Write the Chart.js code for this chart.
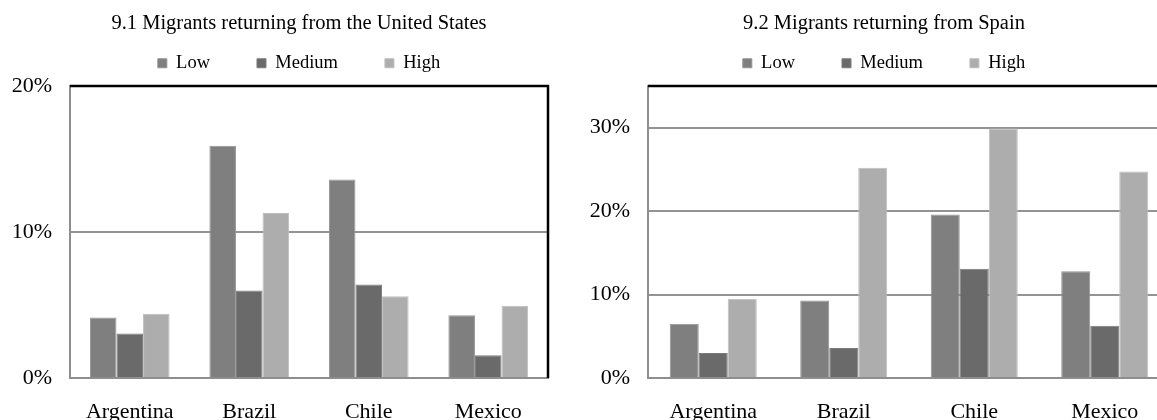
<!DOCTYPE html>
<html>
<head>
<meta charset="utf-8">
<script src="https://cdn.jsdelivr.net/npm/chart.js@4/dist/chart.umd.min.js"></script>
<style>
  html, body { margin: 0; padding: 0; background: #fff; overflow: hidden; width: 1157px; height: 420px; }
  canvas { position: absolute; top: 0; }
  #chart-us { left: 0; }
  #chart-spain { left: 580px; }
</style>
</head>
<body>
<canvas id="chart-us" width="598" height="420"></canvas>
<canvas id="chart-spain" width="608" height="420"></canvas>
<script>
const countries = ['Argentina', 'Brazil', 'Chile', 'Mexico'];
const seriesNames = ['Low', 'Medium', 'High'];

// 9.1 returning from the United States (%)
const usLow = [4.15, 15.9, 13.6, 4.3];
const usMedium = [3.05, 6.0, 6.4, 1.55];
const usHigh = [4.4, 11.3, 5.6, 4.95];

// 9.2 returning from Spain (%)
const spainLow = [6.5, 9.3, 19.6, 12.8];
const spainMedium = [3.0, 3.6, 13.1, 6.25];
const spainHigh = [9.5, 25.2, 29.9, 24.75];

const usAxisMax = 20;
const spainAxisMax = 35;
const tickStep = 10;

const fill = ['#7f7f7f', '#6a6a6a', '#adadad'];
const edge = ['#939393', '#7c7c7c', '#bfbfbf'];
const serif = '"Liberation Serif", "Times New Roman", serif';

// black top edge of the plot area (and right edge on the first panel)
const frame = {
  id: 'frame',
  beforeDatasetsDraw(chart, args, opts) {
    const { ctx, chartArea: a } = chart;
    ctx.save();
    ctx.strokeStyle = '#000';
    ctx.lineWidth = 2.5;
    ctx.beginPath();
    ctx.moveTo(a.left, a.top);
    ctx.lineTo(a.right, a.top);
    if (opts.right) ctx.lineTo(a.right, a.bottom);
    ctx.stroke();
    ctx.restore();
  }
};

// yWidth: room for the % labels, spacer: empty box right of the plot so the
// title and legend centre where the original puts them
function makeChart(id, title, values, axisMax, yWidth, spacer, rightEdge) {
  const ctx = document.getElementById(id).getContext('2d');
  return new Chart(ctx, {
    type: 'bar',
    data: {
      labels: countries,
      datasets: values.map((v, i) => ({
        label: seriesNames[i],
        data: v,
        backgroundColor: fill[i],
        borderColor: edge[i],
        borderWidth: 1,
        categoryPercentage: 0.667,
        barPercentage: 1
      }))
    },
    options: {
      responsive: false,
      animation: false,
      events: [],
      layout: { padding: { top: 7, left: 0, right: 0, bottom: 0 } },
      plugins: {
        legend: {
          position: 'top',
          weight: 3000,
          labels: {
            boxWidth: 9,
            boxHeight: 9,
            padding: 47,
            color: '#000',
            font: { family: serif, size: 18.5 }
          }
        },
        title: {
          display: true,
          text: title,
          color: '#000',
          font: { family: serif, size: 20.5, weight: 'normal' },
          padding: { top: -70.8, bottom: 49.7 }
        },
        tooltip: { enabled: false },
        frame: { right: rightEdge }
      },
      scales: {
        x: {
          grid: { display: false, drawTicks: false },
          border: { color: '#8e8e8e', width: 2 },
          ticks: { color: '#000', padding: 21, font: { family: serif, size: 22 } },
          afterFit: (s) => { s.height = 42; }
        },
        y: {
          min: 0,
          max: axisMax,
          grid: { color: '#939393', lineWidth: 2, drawTicks: false },
          border: { color: '#8e8e8e', width: 2 },
          ticks: {
            stepSize: tickStep,
            includeBounds: false,
            color: '#000',
            padding: 18,
            font: { family: serif, size: 22 },
            callback: (v) => v + '%'
          },
          afterFit: (s) => { s.width = yWidth; }
        },
        spacer: {
          type: 'linear',
          position: 'right',
          grid: { display: false, drawTicks: false },
          border: { display: false },
          ticks: { display: false },
          afterFit: (s) => { s.width = spacer; }
        }
      }
    },
    plugins: [frame]
  });
}

makeChart('chart-us', '9.1 Migrants returning from the United States',
  [usLow, usMedium, usHigh], usAxisMax, 70, 50, true);

makeChart('chart-spain', '9.2 Migrants returning from Spain',
  [spainLow, spainMedium, spainHigh], spainAxisMax, 68, 18, false);
</script>
</body>
</html>
